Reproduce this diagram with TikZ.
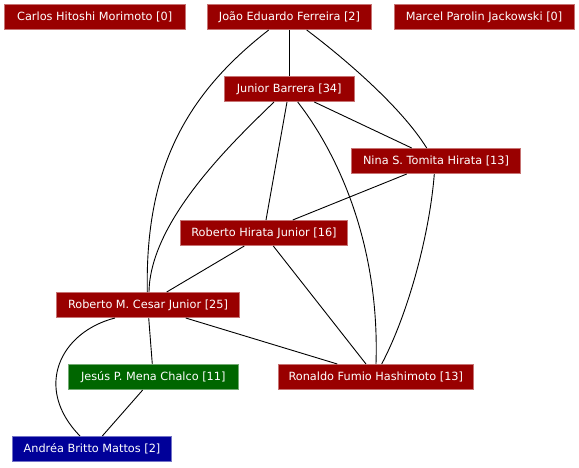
\documentclass[tikz,border=0pt]{standalone}
\usepackage{fontspec}
\setmainfont{DejaVu Sans}
\definecolor{nred}{RGB}{153,0,0}
\definecolor{ngreen}{RGB}{0,102,0}
\definecolor{nblue}{RGB}{0,0,153}
\tikzset{
  person/.style={rectangle, inner sep=0pt, minimum height=25.4pt, text=white,
    font=\fontsize{11.3}{13}\selectfont, line width=0.6pt},
  redbox/.style={person, fill=nred, draw=nred!55!white},
  greenbox/.style={person, fill=ngreen, draw=ngreen!55!white},
  bluebox/.style={person, fill=nblue, draw=nblue!55!white},
  link/.style={draw=black, line width=0.9pt}
}
\begin{document}
\begin{tikzpicture}[x=1pt, y=-1pt]
\useasboundingbox (0,0) rectangle (579,467);
\node[redbox, minimum width=180.7pt] (carlos) at (94.7,17) {Carlos Hitoshi Morimoto [0]};
\node[redbox, minimum width=164.4pt] (joao) at (289.5,17) {João Eduardo Ferreira [2]};
\node[redbox, minimum width=180pt] (marcel) at (484,17) {Marcel Parolin Jackowski [0]};
\node[redbox, minimum width=129.7pt] (junior) at (289.2,89) {Junior Barrera [34]};
\node[redbox, minimum width=169.4pt] (nina) at (436,161) {Nina S. Tomita Hirata [13]};
\node[redbox, minimum width=166.6pt] (rhj) at (264,233) {Roberto Hirata Junior [16]};
\node[redbox, minimum width=182.6pt] (cesar) at (148,305) {Roberto M. Cesar Junior [25]};
\node[greenbox, minimum width=169.3pt] (jesus) at (153.3,377) {Jesús P. Mena Chalco [11]};
\node[redbox, minimum width=195.7pt] (ronaldo) at (375.8,377) {Ronaldo Fumio Hashimoto [13]};
\node[bluebox, minimum width=158.6pt] (andrea) at (92,449) {Andréa Britto Mattos [2]};

\begin{scope}[on background layer/.try]
\end{scope}
% straight connectors
\draw[link] ([xshift=-0.2pt]joao.south) -- ([xshift=0.1pt]junior.north);
\draw[link] ([xshift=-2.2pt]junior.south) -- ([xshift=2pt]rhj.north);
\draw[link] ([xshift=25.1pt]junior.south) -- ([xshift=-24.3pt]nina.north);
\draw[link] ([xshift=-29.3pt]nina.south) -- ([xshift=28.7pt]rhj.north);
\draw[link] ([xshift=-19.7pt]rhj.south) -- ([xshift=18.7pt]cesar.north);
\draw[link] ([xshift=9.3pt]rhj.south) -- ([xshift=-9.8pt]ronaldo.north);
\draw[link] ([xshift=0.7pt]cesar.south) -- ([xshift=-1pt]jesus.north);
\draw[link] ([xshift=37.7pt]cesar.south) -- ([xshift=-38.5pt]ronaldo.north);
\draw[link] ([xshift=-10.6pt]jesus.south) -- ([xshift=10.3pt]andrea.north);
% curved connectors
\draw[link] ([xshift=-20.8pt]joao.south) .. controls (185,95) and (145,170) .. ([xshift=-0.7pt]cesar.north);
\draw[link] ([xshift=-15.2pt]junior.south) .. controls (235,140) and (150,220) .. ([xshift=1pt]cesar.north);
\draw[link] ([xshift=17.2pt]joao.south) .. controls (340,55) and (400,105) .. ([xshift=-9.3pt]nina.north);
\draw[link] ([xshift=8.5pt]junior.south) .. controls (335,150) and (380,240) .. ([xshift=0.2pt]ronaldo.north);
\draw[link] ([xshift=-1.7pt]nina.south) .. controls (430,230) and (410,310) .. ([xshift=5.9pt]ronaldo.north);
\draw[link] ([xshift=-33pt]cesar.south) .. controls (60,332) and (33,388) .. ([xshift=-12pt]andrea.north);
\end{tikzpicture}
\end{document}
